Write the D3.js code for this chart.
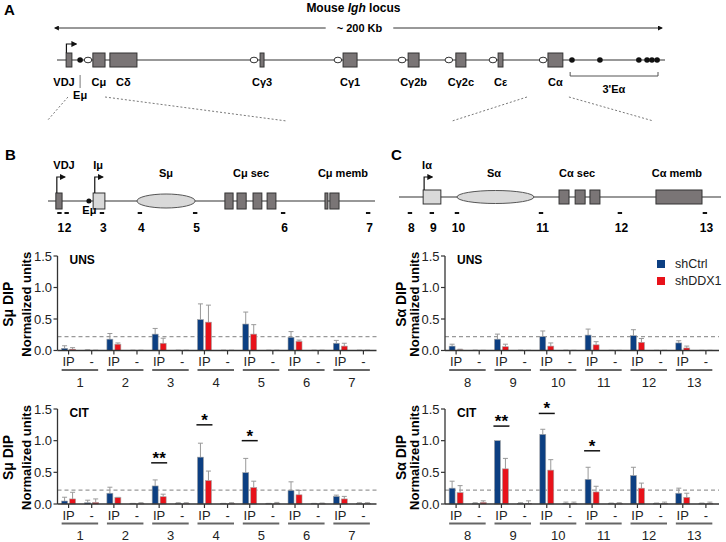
<!DOCTYPE html>
<html>
<head>
<meta charset="utf-8">
<script src="https://cdn.jsdelivr.net/npm/d3@7"></script>
<style>
body { margin: 0; background: #fff; }
svg { font-family: "Liberation Sans", Arial, sans-serif; }
</style>
</head>
<body>
<svg width="726" height="542"></svg>
<script>
// ---- locus diagram (panel A), positions in kb ----
const locusBoxes = [
    { name: 'VDJ', start: 3.0, end: 4.9 },
    { name: 'Cμ', start: 11.8, end: 15.8 },
    { name: 'Cδ', start: 17.4, end: 26.3 },
    { name: 'Cγ3', start: 66.8, end: 68.1 },
    { name: 'Cγ1', start: 94.1, end: 98.7 },
    { name: 'Cγ2b', start: 115.5, end: 119.1 },
    { name: 'Cγ2c', start: 131.2, end: 134.5 },
    { name: 'Cε', start: 145.1, end: 146.7 },
    { name: 'Cα', start: 161.5, end: 166.4 }
];
const locusSwitch = [10.2, 64.8, 92.4, 113.5, 128.9, 143.4, 159.9];
const locusEnhancers = [7.6, 169.4, 178.6, 191.4, 194.1, 195.7, 197.4];

// ---- panel B / C maps, positions in % of map ----
const bBoxes = [
    { start: 2.4, end: 4.3, light: false },
    { start: 13.8, end: 17.4, light: true },
    { start: 54.1, end: 56.6, light: false },
    { start: 57.8, end: 60.6, light: false },
    { start: 62.7, end: 65.4, light: false },
    { start: 67.0, end: 69.7, light: false },
    { start: 84.7, end: 85.6, light: false },
    { start: 86.2, end: 89.0, light: false }
];
const bRegionLabels = [
    { text: 'VDJ', pos: 4.9, row: 0 }, { text: 'Iμ', pos: 15.3, row: 0 },
    { text: 'Sμ', pos: 36.1, row: 1 }, { text: 'Cμ sec', pos: 62.1, row: 1 }, { text: 'Cμ memb', pos: 90.2, row: 1 }
];
const bPrimers = [3.5, 5.7, 16.5, 28.1, 45.0, 71.9, 97.9];
const bPrimerLabels = ['1', '2', '3', '4', '5', '6', '7'];

const cBoxes = [
    { start: 7.5, end: 13.0, light: true },
    { start: 49.7, end: 52.8, light: false },
    { start: 54.7, end: 57.8, light: false },
    { start: 59.3, end: 62.4, light: false },
    { start: 79.8, end: 94.1, light: false }
];
const cRegionLabels = [
    { text: 'Iα', pos: 8.7, row: 0 }, { text: 'Sα', pos: 29.5, row: 1 },
    { text: 'Cα sec', pos: 55.3, row: 1 }, { text: 'Cα memb', pos: 86.3, row: 1 }
];
const cPrimers = [3.4, 10.2, 18.0, 44.1, 68.6, 95.0];
const cPrimerLabels = ['8', '9', '10', '11', '12', '13'];

// ---- DIP data ----
const series = ['shCtrl', 'shDDX1'];
const smuGroups = ['1', '2', '3', '4', '5', '6', '7'];
const saGroups = ['8', '9', '10', '11', '12', '13'];
const yTicks = [0, 0.5, 1.0, 1.5];
const threshold = 0.22;

const smuUnsCtrlIP = [0.035, 0.18, 0.26, 0.49, 0.42, 0.21, 0.115];
const smuUnsCtrlIPErr = [0.04, 0.09, 0.09, 0.25, 0.19, 0.09, 0.045];
const smuUnsDdxIP = [0.02, 0.10, 0.115, 0.45, 0.26, 0.145, 0.07];
const smuUnsDdxIPErr = [0.025, 0.02, 0.08, 0.27, 0.15, 0.02, 0.045];
const smuUnsCtrlNeg = [0.005, 0.003, 0.003, 0.003, 0.003, 0.003, 0.003];
const smuUnsCtrlNegErr = [0.005, 0.002, 0.002, 0.002, 0.002, 0.002, 0.002];
const smuUnsDdxNeg = [0.003, 0.003, 0.003, 0.003, 0.003, 0.003, 0.003];
const smuUnsDdxNegErr = [0.002, 0.002, 0.002, 0.002, 0.002, 0.002, 0.002];

const smuCitCtrlIP = [0.047, 0.17, 0.285, 0.74, 0.495, 0.215, 0.12];
const smuCitCtrlIPErr = [0.06, 0.095, 0.095, 0.22, 0.225, 0.135, 0.02];
const smuCitDdxIP = [0.08, 0.10, 0.115, 0.37, 0.26, 0.145, 0.08];
const smuCitDdxIPErr = [0.105, 0.005, 0.04, 0.15, 0.10, 0.07, 0.04];
const smuCitCtrlNeg = [0.02, 0.005, 0.01, 0.005, 0.005, 0.005, 0.005];
const smuCitCtrlNegErr = [0.04, 0.005, 0.01, 0.005, 0.005, 0.005, 0.015];
const smuCitDdxNeg = [0.025, 0.01, 0.01, 0.01, 0.01, 0.005, 0.005];
const smuCitDdxNegErr = [0.055, 0.01, 0.01, 0.01, 0.015, 0.01, 0.015];

const saUnsCtrlIP = [0.07, 0.18, 0.22, 0.245, 0.235, 0.12];
const saUnsCtrlIPErr = [0.03, 0.08, 0.09, 0.095, 0.095, 0.035];
const saUnsDdxIP = [0.01, 0.06, 0.07, 0.09, 0.13, 0.04];
const saUnsDdxIPErr = [0.01, 0.04, 0.05, 0.05, 0.06, 0.03];
const saUnsCtrlNeg = [0.003, 0.003, 0.003, 0.002, 0.002, 0.002];
const saUnsCtrlNegErr = [0.002, 0.002, 0.002, 0.001, 0.001, 0.001];
const saUnsDdxNeg = [0.002, 0.002, 0.002, 0.002, 0.002, 0.002];
const saUnsDdxNegErr = [0.001, 0.001, 0.001, 0.001, 0.001, 0.001];

const saCitCtrlIP = [0.25, 1.0, 1.10, 0.39, 0.45, 0.17];
const saCitCtrlIPErr = [0.11, 0, 0.08, 0.19, 0.13, 0.08];
const saCitDdxIP = [0.18, 0.555, 0.535, 0.19, 0.25, 0.105];
const saCitDdxIPErr = [0.11, 0.165, 0.165, 0.09, 0.08, 0.065];
const saCitCtrlNeg = [0.01, 0.01, 0.01, 0.005, 0.005, 0.005];
const saCitCtrlNegErr = [0.01, 0.01, 0.02, 0.01, 0.01, 0.01];
const saCitDdxNeg = [0.025, 0.01, 0.01, 0.01, 0.01, 0.01];
const saCitDdxNegErr = [0.025, 0.04, 0.02, 0.01, 0.02, 0.02];

const smuCitSig = [{ group: '3', level: 0.65, label: '**' }, { group: '4', level: 1.25, label: '*' }, { group: '5', level: 1.0, label: '*' }];
const saCitSig = [{ group: '9', level: 1.23, label: '**' }, { group: '10', level: 1.43, label: '*' }, { group: '11', level: 0.84, label: '*' }];

const colorScale = d3.scaleOrdinal(series, ['#0c3f82', '#e8121a']);
const DARK = '#7a7576';
const LIGHT = '#d9d9d9';
const INK = '#333';

const svg = d3.select('svg');
svg.append('defs').append('marker')
    .attr('id', 'head').attr('viewBox', '0 0 10 10').attr('refX', 8).attr('refY', 5)
    .attr('markerWidth', 5).attr('markerHeight', 5).attr('orient', 'auto-start-reverse')
    .append('path').attr('d', 'M0,0L10,5L0,10z').attr('fill', '#111');

const panelLetter = (txt, x, y) => svg.append('text').attr('x', x).attr('y', y)
    .attr('font-size', 15).attr('font-weight', 'bold').text(txt);

// ---------------- Panel A ----------------
panelLetter('A', 4, 15);
const xKb = d3.scaleLinear().domain([0, 200]).range([57, 665]);
const lineA = 60;

const locusTitle = svg.append('text').attr('x', xKb(97.5)).attr('y', 12).attr('text-anchor', 'middle')
    .attr('font-size', 12).attr('font-weight', 'bold');
locusTitle.append('tspan').text('Mouse ');
locusTitle.append('tspan').attr('font-style', 'italic').text('Igh');
locusTitle.append('tspan').text(' locus');

const kbText = svg.append('text').attr('x', xKb(99.5)).attr('y', 32).attr('text-anchor', 'middle')
    .attr('font-size', 11).attr('font-weight', 'bold').text('~ 200 Kb');
const halfGap = kbText.node().getComputedTextLength() / 2 + 11;
svg.append('line').attr('x1', xKb(99.5) - halfGap).attr('x2', xKb(-0.7)).attr('y1', 28).attr('y2', 28)
    .attr('stroke', INK).attr('stroke-width', 1).attr('marker-end', 'url(#head)');
svg.append('line').attr('x1', xKb(99.5) + halfGap).attr('x2', xKb(199)).attr('y1', 28).attr('y2', 28)
    .attr('stroke', INK).attr('stroke-width', 1).attr('marker-end', 'url(#head)');

svg.append('line').attr('x1', xKb(0)).attr('x2', xKb(200)).attr('y1', lineA).attr('y2', lineA)
    .attr('stroke', INK).attr('stroke-width', 1.2);

// promoter arrow
svg.append('path').attr('d', `M${xKb(3.1)},${lineA - 7}V${lineA - 16}H${xKb(6.3)}`)
    .attr('fill', 'none').attr('stroke', '#111').attr('stroke-width', 1.2).attr('marker-end', 'url(#head)');

svg.selectAll('.sw').data(locusSwitch).join('ellipse').attr('class', 'sw')
    .attr('cx', d => xKb(d)).attr('cy', lineA).attr('rx', 3.8).attr('ry', 2.8)
    .attr('fill', '#fff').attr('stroke', INK).attr('stroke-width', 1);
svg.selectAll('.box').data(locusBoxes).join('rect').attr('class', 'box')
    .attr('x', d => xKb(d.start)).attr('width', d => xKb(d.end) - xKb(d.start))
    .attr('y', lineA - 7).attr('height', 14)
    .attr('fill', DARK).attr('stroke', INK).attr('stroke-width', 1);
svg.selectAll('.enh').data(locusEnhancers).join('circle').attr('class', 'enh')
    .attr('cx', d => xKb(d)).attr('cy', lineA).attr('r', 2.8).attr('fill', '#111');
svg.selectAll('.boxlab').data(locusBoxes).join('text').attr('class', 'boxlab')
    .attr('x', d => xKb((d.start + d.end) / 2) - (d.name === 'VDJ' ? 5 : 0)).attr('y', 86)
    .attr('text-anchor', 'middle').attr('font-size', 11).attr('font-weight', 'bold').text(d => d.name);

svg.append('line').attr('x1', xKb(7.6)).attr('x2', xKb(7.6)).attr('y1', 75).attr('y2', 88)
    .attr('stroke', '#555').attr('stroke-width', 0.8);
svg.append('text').attr('x', xKb(7.6)).attr('y', 99).attr('text-anchor', 'middle')
    .attr('font-size', 11).attr('font-weight', 'bold').text('Eμ');

// 3'Ea bracket
svg.append('path').attr('d', `M${xKb(168.8)},72V76H${xKb(197.7)}V72`)
    .attr('fill', 'none').attr('stroke', '#555').attr('stroke-width', 1);
svg.append('text').attr('x', xKb(183.2)).attr('y', 93).attr('text-anchor', 'middle')
    .attr('font-size', 11).attr('font-weight', 'bold').text('3\'Eα');

// ---------------- Panel B / C maps ----------------
const xB = d3.scaleLinear().domain([0, 100]).range([48, 375]);
const xC = d3.scaleLinear().domain([0, 100]).range([399, 721]);

// zoom lines from A
const zoomLines = [
    [xKb(3.6), xB(-0.3)], [xKb(15.8), xB(73)],
    [xKb(154.6), xC(16.5)], [xKb(168.4), xC(79)]
];
svg.selectAll('.zoomline').data(zoomLines).join('line').attr('class', 'zoomline')
    .attr('x1', d => d[0]).attr('y1', 97).attr('x2', d => d[1]).attr('y2', 121)
    .attr('stroke', '#555').attr('stroke-width', 0.8).attr('stroke-dasharray', '2,2');

const drawMap = (cfg) => {
    const { x, lineY, boxH, boxes, ellipse, promoters, enhancer, labels, primers, primerLabels } = cfg;
    const g = svg.append('g');
    g.append('line').attr('x1', x(0)).attr('x2', x(100)).attr('y1', lineY).attr('y2', lineY)
        .attr('stroke', INK).attr('stroke-width', 1.2);
    g.append('ellipse').attr('cx', x((ellipse[0] + ellipse[1]) / 2)).attr('cy', lineY)
        .attr('rx', (x(ellipse[1]) - x(ellipse[0])) / 2).attr('ry', ellipse[2])
        .attr('fill', LIGHT).attr('stroke', '#555').attr('stroke-width', 1);
    g.selectAll('rect').data(boxes).join('rect')
        .attr('x', d => x(d.start)).attr('width', d => x(d.end) - x(d.start))
        .attr('y', lineY - boxH / 2).attr('height', boxH)
        .attr('fill', d => d.light ? LIGHT : DARK).attr('stroke', INK).attr('stroke-width', 1);
    if (enhancer !== undefined) {
        g.append('circle').attr('cx', x(enhancer)).attr('cy', lineY).attr('r', 2.5).attr('fill', '#111');
        g.append('text').attr('x', x(enhancer) + 0.5).attr('y', lineY + 13).attr('text-anchor', 'middle')
            .attr('font-size', 11).attr('font-weight', 'bold').text('Eμ');
    }
    g.selectAll('.prom').data(promoters).join('path').attr('class', 'prom')
        .attr('d', d => `M${x(d)},${lineY - boxH / 2}V177H${x(d) + 8}`)
        .attr('fill', 'none').attr('stroke', '#111').attr('stroke-width', 1.2).attr('marker-end', 'url(#head)');
    g.selectAll('.rlab').data(labels).join('text').attr('class', 'rlab')
        .attr('x', d => x(d.pos)).attr('y', d => d.row === 0 ? 169 : 177).attr('text-anchor', 'middle')
        .attr('font-size', 11).attr('font-weight', 'bold').text(d => d.text);
    g.selectAll('.primer').data(primers).join('line').attr('class', 'primer')
        .attr('x1', d => x(d) - 2.2).attr('x2', d => x(d) + 2.2).attr('y1', 213).attr('y2', 213)
        .attr('stroke', '#111').attr('stroke-width', 2);
    g.selectAll('.plab').data(primers).join('text').attr('class', 'plab')
        .attr('x', d => x(d) + 1.5).attr('y', 232).attr('text-anchor', 'middle')
        .attr('font-size', 12).attr('font-weight', 'bold').text((d, i) => primerLabels[i]);
};

panelLetter('B', 5, 160);
drawMap({ x: xB, lineY: 201, boxH: 16, boxes: bBoxes, ellipse: [27.2, 45.0, 7], promoters: [2.7, 14.3],
    enhancer: 12.5, labels: bRegionLabels, primers: bPrimers, primerLabels: bPrimerLabels });
panelLetter('C', 391, 160);
drawMap({ x: xC, lineY: 197, boxH: 14, boxes: cBoxes, ellipse: [18.0, 41.9, 6.5], promoters: [7.8],
    labels: cRegionLabels, primers: cPrimers, primerLabels: cPrimerLabels });

// ---------------- DIP bar charts ----------------
const drawChart = (cfg) => {
    const { groups, xRange, yRange, values, label, target, titleX, sig } = cfg;
    const g = svg.append('g');
    const x = d3.scaleBand().domain(groups).range(xRange);
    const sub = d3.scalePoint().domain(['IP', '-']).range([0, x.bandwidth()]).padding(0.48);
    const ser = d3.scaleBand().domain(series).range([-7, 7]).paddingInner(0.25);
    const y = d3.scaleLinear().domain([0, 1.5]).range(yRange);
    const [x0, x1] = xRange;
    const y0 = y(0);

    const rows = groups.flatMap((grp, i) => [
        { group: grp, sub: 'IP', series: 'shCtrl', value: values.ctrlIP[i], err: values.ctrlIPErr[i] },
        { group: grp, sub: 'IP', series: 'shDDX1', value: values.ddxIP[i], err: values.ddxIPErr[i] },
        { group: grp, sub: '-', series: 'shCtrl', value: values.ctrlNeg[i], err: values.ctrlNegErr[i] },
        { group: grp, sub: '-', series: 'shDDX1', value: values.ddxNeg[i], err: values.ddxNegErr[i] }
    ]);
    const center = d => x(d.group) + sub(d.sub) + ser(d.series) + ser.bandwidth() / 2;

    g.append('line').attr('x1', x0).attr('x2', x1 + 2).attr('y1', y(threshold)).attr('y2', y(threshold))
        .attr('stroke', '#999').attr('stroke-width', 1.2).attr('stroke-dasharray', '4,3');

    g.selectAll('.err').data(rows.filter(d => d.err > 0)).join('path').attr('class', 'err')
        .attr('d', d => `M${center(d)},${y(d.value)}V${y(d.value + d.err)}M${center(d) - 2.5},${y(d.value + d.err)}h5`)
        .attr('stroke', '#999').attr('stroke-width', 1).attr('fill', 'none');

    g.selectAll('.bar').data(rows).join('rect').attr('class', 'bar')
        .attr('x', d => x(d.group) + sub(d.sub) + ser(d.series)).attr('width', ser.bandwidth())
        .attr('y', d => y(d.value)).attr('height', d => y0 - y(d.value))
        .attr('fill', d => colorScale(d.series)).attr('stroke', '#a3a3a3').attr('stroke-width', 0.6);

    // y axis, drawn by hand from the y scale
    g.append('line').attr('x1', x0).attr('x2', x0).attr('y1', y(0)).attr('y2', y(1.5))
        .attr('stroke', INK).attr('stroke-width', 1.3);
    g.selectAll('.ytick').data(yTicks).join('line').attr('class', 'ytick')
        .attr('x1', x0 - 4).attr('x2', x0).attr('y1', d => y(d)).attr('y2', d => y(d))
        .attr('stroke', INK).attr('stroke-width', 1.2);
    g.selectAll('.ylab').data(yTicks).join('text').attr('class', 'ylab')
        .attr('x', x0 - 5.5).attr('y', d => y(d) + 4.5).attr('text-anchor', 'end')
        .attr('font-size', 13).attr('fill', '#222').text(d => d3.format('.1f')(d));

    // x axis
    g.append('line').attr('x1', x0).attr('x2', x1 + 2).attr('y1', y0).attr('y2', y0)
        .attr('stroke', INK).attr('stroke-width', 1.5);
    const subRows = groups.flatMap(grp => ['IP', '-'].map(s => ({ group: grp, sub: s })));
    g.selectAll('.xtick').data(subRows).join('line').attr('class', 'xtick')
        .attr('x1', d => x(d.group) + sub(d.sub)).attr('x2', d => x(d.group) + sub(d.sub))
        .attr('y1', y0).attr('y2', y0 + 4).attr('stroke', INK).attr('stroke-width', 1.2);
    g.selectAll('.xsub').data(subRows).join('text').attr('class', 'xsub')
        .attr('x', d => x(d.group) + sub(d.sub)).attr('y', y0 + 15.5).attr('text-anchor', 'middle')
        .attr('font-size', 13).attr('fill', '#222').text(d => d.sub);
    g.selectAll('.under').data(groups).join('line').attr('class', 'under')
        .attr('x1', d => x(d) + x.bandwidth() / 2 - 18.5).attr('x2', d => x(d) + x.bandwidth() / 2 + 18)
        .attr('y1', y0 + 19.5).attr('y2', y0 + 19.5).attr('stroke', '#666').attr('stroke-width', 2);
    g.selectAll('.glab').data(groups).join('text').attr('class', 'glab')
        .attr('x', d => x(d) + x.bandwidth() / 2).attr('y', y0 + 36).attr('text-anchor', 'middle')
        .attr('font-size', 13).attr('fill', '#222').text(d => d);

    g.append('text').attr('x', x0 + 12).attr('y', y(1.5) + 8).attr('font-size', 12)
        .attr('font-weight', 'bold').text(label);

    const midY = (y(0) + y(1.5)) / 2 + 1;
    g.append('text').attr('transform', `translate(${titleX[0]},${midY}) rotate(-90)`)
        .attr('text-anchor', 'middle').attr('font-size', 14).attr('font-weight', 'bold').text(`${target} DIP`);
    g.append('text').attr('transform', `translate(${titleX[1]},${midY}) rotate(-90)`)
        .attr('text-anchor', 'middle').attr('font-size', 13).attr('font-weight', 'bold').text('Normalized units');

    if (sig) {
        const ipMid = d => x(d.group) + sub('IP');
        g.selectAll('.sigline').data(sig).join('line').attr('class', 'sigline')
            .attr('x1', d => ipMid(d) - 8).attr('x2', d => ipMid(d) + 8)
            .attr('y1', d => y(d.level)).attr('y2', d => y(d.level))
            .attr('stroke', '#111').attr('stroke-width', 1.5);
        g.selectAll('.sigtext').data(sig).join('text').attr('class', 'sigtext')
            .attr('x', d => ipMid(d)).attr('y', d => y(d.level) + 1).attr('text-anchor', 'middle')
            .attr('font-size', 17).attr('font-weight', 'bold').text(d => d.label);
    }
};

const leftX = [57.5, 374.5];
const rightX = [445, 717];
const topY = [350.5, 256];
const bottomY = [504, 409];

drawChart({ groups: smuGroups, xRange: leftX, yRange: topY, label: 'UNS', target: 'Sμ', titleX: [13, 31],
    values: { ctrlIP: smuUnsCtrlIP, ctrlIPErr: smuUnsCtrlIPErr, ddxIP: smuUnsDdxIP, ddxIPErr: smuUnsDdxIPErr,
        ctrlNeg: smuUnsCtrlNeg, ctrlNegErr: smuUnsCtrlNegErr, ddxNeg: smuUnsDdxNeg, ddxNegErr: smuUnsDdxNegErr } });
drawChart({ groups: smuGroups, xRange: leftX, yRange: bottomY, label: 'CIT', target: 'Sμ', titleX: [13, 31], sig: smuCitSig,
    values: { ctrlIP: smuCitCtrlIP, ctrlIPErr: smuCitCtrlIPErr, ddxIP: smuCitDdxIP, ddxIPErr: smuCitDdxIPErr,
        ctrlNeg: smuCitCtrlNeg, ctrlNegErr: smuCitCtrlNegErr, ddxNeg: smuCitDdxNeg, ddxNegErr: smuCitDdxNegErr } });
drawChart({ groups: saGroups, xRange: rightX, yRange: topY, label: 'UNS', target: 'Sα', titleX: [406, 419],
    values: { ctrlIP: saUnsCtrlIP, ctrlIPErr: saUnsCtrlIPErr, ddxIP: saUnsDdxIP, ddxIPErr: saUnsDdxIPErr,
        ctrlNeg: saUnsCtrlNeg, ctrlNegErr: saUnsCtrlNegErr, ddxNeg: saUnsDdxNeg, ddxNegErr: saUnsDdxNegErr } });
drawChart({ groups: saGroups, xRange: rightX, yRange: bottomY, label: 'CIT', target: 'Sα', titleX: [406, 419], sig: saCitSig,
    values: { ctrlIP: saCitCtrlIP, ctrlIPErr: saCitCtrlIPErr, ddxIP: saCitDdxIP, ddxIPErr: saCitDdxIPErr,
        ctrlNeg: saCitCtrlNeg, ctrlNegErr: saCitCtrlNegErr, ddxNeg: saCitDdxNeg, ddxNegErr: saCitDdxNegErr } });

// legend
const legend = svg.append('g').attr('transform', 'translate(657,260)');
const legendItem = legend.selectAll('g').data(series).join('g').attr('transform', (d, i) => `translate(0,${i * 17})`);
legendItem.append('rect').attr('width', 8).attr('height', 8).attr('fill', d => colorScale(d));
legendItem.append('text').attr('x', 18).attr('y', 8).attr('font-size', 12.5).attr('fill', '#222').text(d => d);
</script>
</body>
</html>
